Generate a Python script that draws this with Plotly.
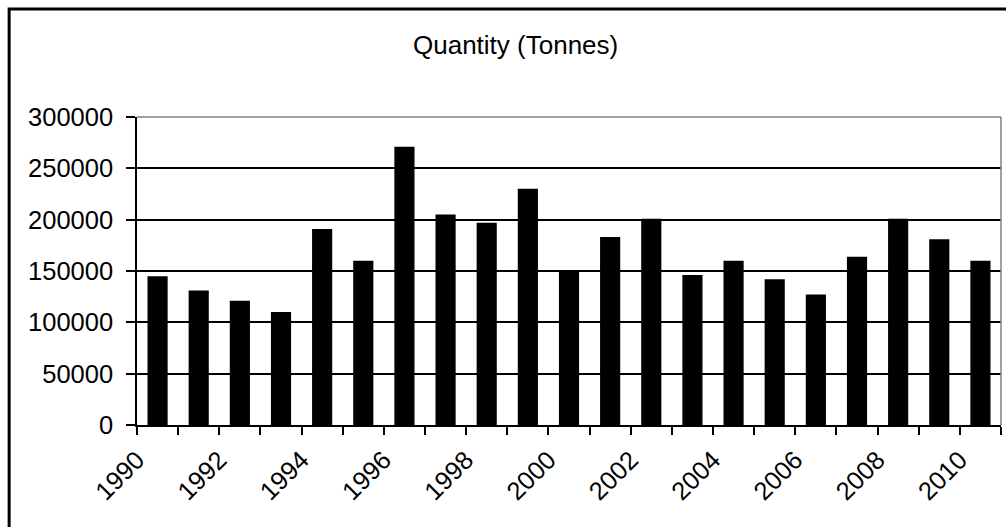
import plotly.graph_objects as go

# Annual quantity, tonnes
years = list(range(1990, 2011))
quantity = [145000, 131000, 121000, 110000, 191000, 160000, 271000, 205000,
            197000, 230000, 150000, 183000, 201000, 146000, 160000, 142000,
            127000, 164000, 201000, 181000, 160000]
tick_labels = ["1990", "1992", "1994", "1996", "1998", "2000",
               "2002", "2004", "2006", "2008", "2010"]
y_ticks = [0, 50000, 100000, 150000, 200000, 250000, 300000]

FONT = "Liberation Sans, Arial, sans-serif"

# ticks sit on category boundaries; every second boundary carries a year label
boundaries = [y - 0.5 for y in years] + [years[-1] + 0.5]
boundary_text = []
for b in boundaries:
    lbl = str(int(b + 0.5))
    boundary_text.append(lbl if lbl in tick_labels else "")

fig = go.Figure(
    go.Bar(
        x=years,
        y=quantity,
        marker=dict(color="#000000", line=dict(width=0)),
        width=0.49,
    )
)

fig.update_layout(
    width=1006,
    height=527,
    margin=dict(l=137, r=5, t=117, b=102),
    paper_bgcolor="white",
    plot_bgcolor="white",
    showlegend=False,
    font=dict(family=FONT, size=25.5, color="#000000"),
    xaxis=dict(
        range=[boundaries[0], boundaries[-1]],
        tickmode="array",
        tickvals=boundaries,
        ticktext=boundary_text,
        tickangle=-45,
        ticks="outside",
        ticklen=8,
        tickwidth=1.5,
        tickcolor="#000000",
        showline=True,
        linecolor="#000000",
        linewidth=1.5,
        showgrid=False,
        zeroline=False,
        tickfont=dict(family=FONT, size=25.5, color="#000000"),
    ),
    yaxis=dict(
        range=[0, 300000],
        tickmode="array",
        tickvals=y_ticks,
        ticktext=[str(v) for v in y_ticks],
        ticks="outside",
        ticklen=9,
        tickwidth=1.5,
        tickcolor="#000000",
        ticklabelstandoff=8,
        showline=True,
        linecolor="#000000",
        linewidth=1.5,
        showgrid=True,
        gridcolor="#000000",
        gridwidth=1.5,
        zeroline=False,
        tickfont=dict(family=FONT, size=25.5, color="#000000"),
    ),
    shapes=[
        # plot-area frame: top and right edges in grey
        dict(type="line", xref="paper", yref="paper", x0=0, x1=1, y0=1, y1=1,
             line=dict(color="#808080", width=1.5)),
        dict(type="line", xref="paper", yref="paper", x0=1, x1=1, y0=0, y1=1,
             line=dict(color="#808080", width=1.5)),
        # outer chart border
        dict(type="rect", xref="paper", yref="paper",
             x0=-0.148, x1=1.2, y0=-0.6, y1=1.3506,
             line=dict(color="#000000", width=3), fillcolor="rgba(0,0,0,0)"),
    ],
    annotations=[
        dict(text="Quantity (Tonnes)", xref="paper", yref="paper",
             x=0.4375, y=1.2338, xanchor="center", yanchor="middle",
             showarrow=False, font=dict(family=FONT, size=26, color="#000000")),
    ],
)

fig.write_html("out.html")
